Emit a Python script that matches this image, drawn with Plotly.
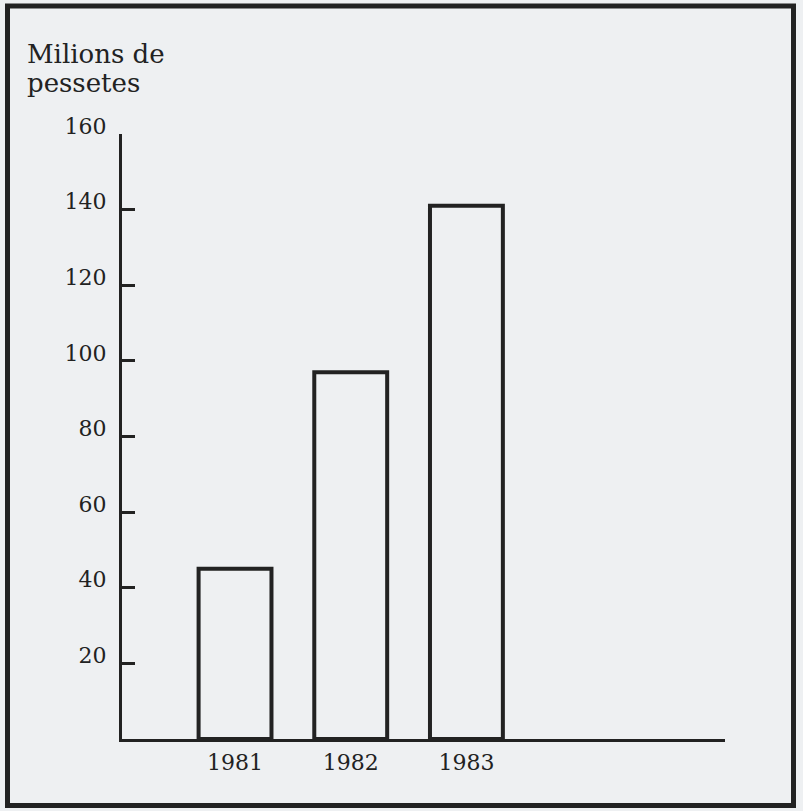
import plotly.graph_objects as go

years = ["1981", "1982", "1983"]
values = [45, 97, 141]
y_ticks = [20, 40, 60, 80, 100, 120, 140, 160]
y_title_lines = ["Milions de", "pessetes"]

INK = "#222222"
BG = "#eef0f2"
FONT = "DejaVu Serif"

# pixel geometry of the plot area (page coords)
PX_L, PX_R, PX_T, PX_B = 122, 725, 134, 739


def px_x(px):
    return (px - PX_L) / (PX_R - PX_L)


def px_y(py):
    return (PX_B - py) / (PX_B - PX_T)


fig = go.Figure(
    go.Bar(
        x=years,
        y=values,
        width=0.63,
        marker=dict(color="rgba(0,0,0,0)", line=dict(color=INK, width=4)),
        hoverinfo="x+y",
    )
)

title_annots = [
    dict(
        xref="paper",
        yref="paper",
        x=px_x(25),
        y=px_y(cy),
        xanchor="left",
        yanchor="middle",
        align="left",
        showarrow=False,
        text=line,
        font=dict(family=FONT, size=26, color=INK),
    )
    for line, cy in zip(y_title_lines, [54, 83])
]

fig.update_layout(
    width=803,
    height=811,
    margin=dict(l=PX_L, r=803 - PX_R, t=PX_T, b=811 - PX_B),
    paper_bgcolor=BG,
    plot_bgcolor=BG,
    showlegend=False,
    font=dict(family=FONT, size=22, color=INK),
    xaxis=dict(
        type="category",
        range=[-0.977, 4.235],
        showline=True,
        linewidth=3,
        linecolor=INK,
        ticks="",
        showgrid=False,
        zeroline=False,
        tickfont=dict(family=FONT, size=22, color=INK),
        ticklabelstandoff=2,
    ),
    yaxis=dict(
        range=[0, 160],
        showline=True,
        linewidth=3,
        linecolor=INK,
        ticks="inside",
        ticklen=13,
        tickwidth=3,
        tickcolor=INK,
        tickvals=y_ticks,
        showgrid=False,
        zeroline=False,
        tickfont=dict(family=FONT, size=22, color=INK),
        ticklabelstandoff=8,
        ticklabelshift=-8,
    ),
    shapes=[
        dict(
            type="rect",
            xref="paper",
            yref="paper",
            x0=px_x(7.5),
            x1=px_x(793.5),
            y0=px_y(805.5),
            y1=px_y(6),
            line=dict(color=INK, width=5),
            fillcolor="rgba(0,0,0,0)",
        )
    ],
    annotations=title_annots,
)

fig.write_html(
    "out.html",
    config={"displayModeBar": False},
    post_script="document.body.style.margin='0';document.body.style.overflow='hidden';",
)
